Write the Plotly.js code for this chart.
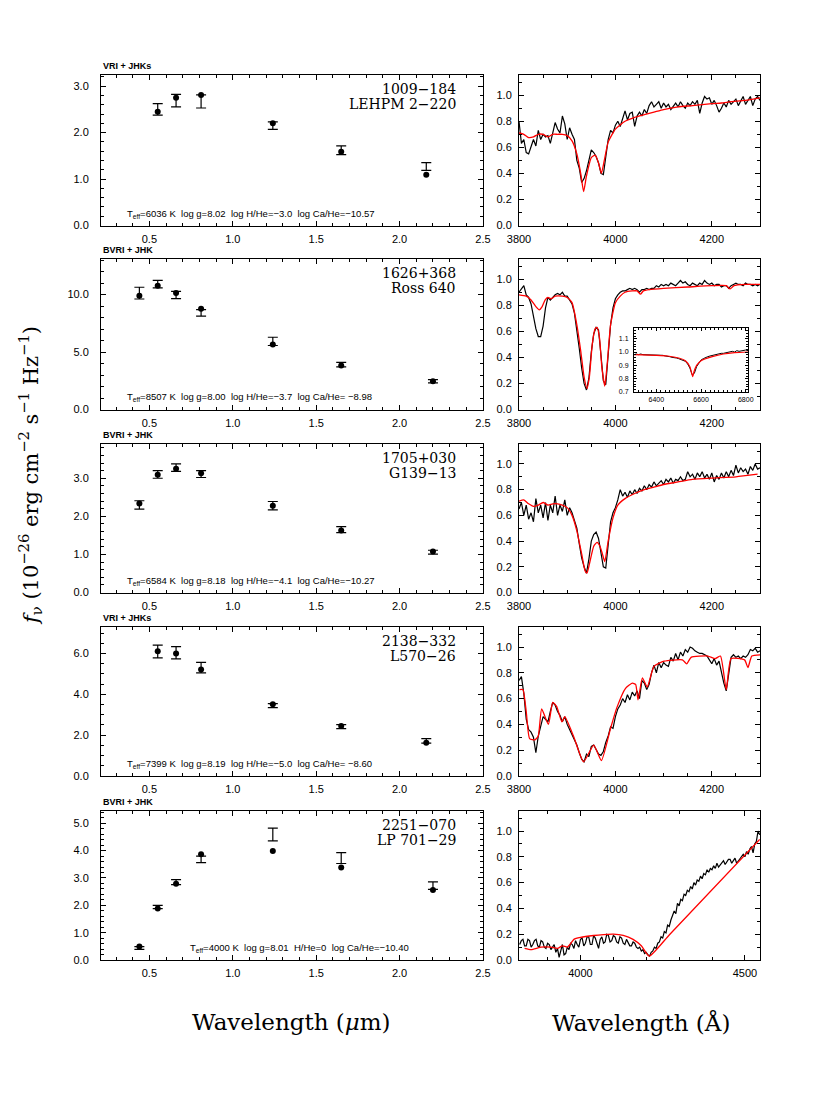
<!DOCTYPE html>
<html>
<head>
<meta charset="utf-8">
<script src="https://cdn.plot.ly/plotly-3.0.1.min.js"></script>
<style>
  body { margin: 0; background: #fff; }
  #chart { width: 830px; height: 1106px; }
</style>
</head>
<body>
<div id="chart"></div>
<script>
// photometric band wavelengths (micron)
var bandsVRIJHKs = [0.55, 0.66, 0.81, 1.24, 1.65, 2.16];
var bandsBVRIJHK = [0.44, 0.55, 0.66, 0.81, 1.24, 1.65, 2.20];

// observed fluxes (error bars) and model fluxes (dots), 10^-26 erg/cm2/s/Hz
var obs1 = [2.50, 2.69, 2.67, 2.15, 1.62, 1.27];
var err1 = [0.125, 0.135, 0.14, 0.08, 0.095, 0.085];
var mod1 = [2.45, 2.75, 2.81, 2.20, 1.59, 1.09];

var obs2 = [10.13, 10.91, 9.97, 8.41, 5.93, 3.91, 2.46];
var err2 = [0.51, 0.33, 0.32, 0.29, 0.36, 0.20, 0.145];
var mod2 = [9.91, 10.78, 10.14, 8.78, 5.65, 3.83, 2.46];

var obs3 = [2.30, 3.10, 3.28, 3.11, 2.28, 1.65, 1.06];
var err3 = [0.11, 0.10, 0.10, 0.09, 0.11, 0.08, 0.05];
var mod3 = [2.34, 3.09, 3.25, 3.13, 2.28, 1.63, 1.08];

var obs4 = [6.10, 6.04, 5.31, 3.45, 2.42, 1.72];
var err4 = [0.31, 0.30, 0.26, 0.10, 0.10, 0.11];
var mod4 = [6.11, 6.00, 5.22, 3.51, 2.45, 1.63];

var obs5 = [0.44, 1.94, 2.85, 3.68, 4.59, 3.73, 2.72];
var err5 = [0.05, 0.06, 0.09, 0.12, 0.23, 0.20, 0.135];
var mod5 = [0.49, 1.88, 2.79, 3.87, 3.99, 3.38, 2.56];

// observed spectra, 3800-4300 A every 5 A (rows 1-4)
var spec1 = [
  0.80, 0.63, 0.66, 0.56, 0.55, 0.60, 0.66, 0.61, 0.73, 0.66,
  0.70, 0.68, 0.69, 0.63, 0.72, 0.79, 0.74, 0.71, 0.84, 0.78,
  0.66, 0.75, 0.70, 0.66, 0.50, 0.44, 0.33, 0.36, 0.42, 0.50,
  0.58, 0.56, 0.53, 0.48, 0.40, 0.39, 0.55, 0.66, 0.73, 0.71,
  0.77, 0.80, 0.76, 0.82, 0.88, 0.81, 0.86, 0.87, 0.76, 0.84,
  0.87, 0.84, 0.89, 0.86, 0.92, 0.95, 0.91, 0.93, 0.95, 0.90,
  0.94, 0.91, 0.93, 0.89, 0.92, 0.94, 0.91, 0.95, 0.92, 0.90,
  0.94, 0.92, 0.95, 0.93, 0.96, 0.86, 0.94, 0.99, 0.97, 0.98,
  0.93, 0.96, 0.92, 0.87, 0.90, 0.94, 0.91, 0.96, 0.93, 0.95,
  0.97, 0.92, 0.95, 0.99, 0.93, 0.96, 0.99, 0.92, 0.97, 0.99,
  0.96
];
var spec2 = [
  0.90, 0.93, 0.95, 0.88, 0.86, 0.81, 0.72, 0.62, 0.56, 0.56,
  0.64, 0.78, 0.86, 0.84, 0.86, 0.88, 0.89, 0.88, 0.90, 0.87,
  0.87, 0.84, 0.81, 0.74, 0.62, 0.47, 0.32, 0.20, 0.15, 0.24,
  0.44, 0.58, 0.63, 0.61, 0.42, 0.22, 0.19, 0.40, 0.65, 0.78,
  0.85, 0.88, 0.90, 0.91, 0.91, 0.92, 0.93, 0.92, 0.93, 0.92,
  0.90, 0.92, 0.92, 0.93, 0.92, 0.93, 0.93, 0.95, 0.94, 0.96,
  0.95, 0.96, 0.95, 0.97, 0.96, 0.95, 0.97, 0.99, 0.97, 0.98,
  0.96, 0.95, 0.97, 0.96, 0.95, 0.97, 0.96, 0.99, 0.97, 0.96,
  0.97, 0.95, 0.96, 0.96, 0.94, 0.95, 0.95, 0.93, 0.95, 0.96,
  0.97, 0.96, 0.96, 0.95, 0.97, 0.96, 0.96, 0.95, 0.96, 0.95,
  0.96
];
var spec3 = [
  0.65, 0.70, 0.60, 0.68, 0.57, 0.62, 0.55, 0.73, 0.62, 0.68,
  0.58, 0.70, 0.56, 0.68, 0.62, 0.75, 0.60, 0.68, 0.63, 0.72,
  0.60, 0.66, 0.62, 0.56, 0.50, 0.38, 0.27, 0.20, 0.15, 0.26,
  0.40, 0.45, 0.47, 0.42, 0.30, 0.20, 0.19, 0.40, 0.55, 0.62,
  0.66, 0.72, 0.80, 0.75, 0.78, 0.74, 0.79, 0.76, 0.80, 0.77,
  0.81, 0.79, 0.83, 0.80, 0.84, 0.82, 0.86, 0.83, 0.85, 0.87,
  0.84, 0.88, 0.86, 0.89, 0.85, 0.88, 0.87, 0.90, 0.87, 0.88,
  0.94, 0.90, 0.92, 0.88, 0.93, 0.90, 0.94, 0.89, 0.92, 0.88,
  0.93, 0.86, 0.91, 0.88, 0.93, 0.89, 0.94, 0.90, 0.95, 0.91,
  0.99, 0.93, 0.97, 0.94, 0.96, 0.92, 0.98, 0.95, 1.00, 0.96,
  0.97
];
var spec4 = [
  0.74, 0.77, 0.64, 0.44, 0.36, 0.34, 0.30, 0.18, 0.31, 0.38,
  0.46, 0.44, 0.42, 0.50, 0.57, 0.55, 0.50, 0.47, 0.42, 0.46,
  0.40, 0.36, 0.32, 0.27, 0.24, 0.18, 0.13, 0.11, 0.17, 0.15,
  0.23, 0.24, 0.21, 0.17, 0.16, 0.19, 0.26, 0.31, 0.38, 0.37,
  0.46, 0.52, 0.55, 0.60, 0.57, 0.63, 0.59, 0.65, 0.62, 0.66,
  0.60, 0.74, 0.72, 0.67, 0.71, 0.80, 0.86, 0.80, 0.88, 0.84,
  0.88, 0.86, 0.85, 0.92, 0.89, 0.95, 0.90, 0.96, 0.93, 0.98,
  0.96, 1.00, 0.99, 0.97, 0.96, 0.95, 0.95, 0.94, 0.93, 0.90,
  0.87, 0.91, 0.86, 0.89, 0.80, 0.72, 0.66, 0.80, 0.92, 0.94,
  0.92, 0.93, 0.91, 0.93, 0.92, 0.94, 0.98, 0.97, 0.99, 0.96,
  0.97
];
// row 5: 3815-4545 A every 5 A
var spec5 = [
  0.12, 0.15, 0.16, 0.11, 0.11, 0.16, 0.15, 0.10, 0.12, 0.15,
  0.16, 0.11, 0.10, 0.15, 0.14, 0.10, 0.09, 0.13, 0.12, 0.08,
  0.10, 0.12, 0.06, 0.09, 0.02, 0.08, 0.12, 0.04, 0.05, 0.10,
  0.08, 0.13, 0.12, 0.09, 0.15, 0.12, 0.10, 0.16, 0.17, 0.11,
  0.13, 0.18, 0.18, 0.12, 0.12, 0.19, 0.17, 0.13, 0.09, 0.16,
  0.18, 0.13, 0.14, 0.20, 0.19, 0.14, 0.15, 0.19, 0.18, 0.14,
  0.13, 0.18, 0.17, 0.13, 0.12, 0.16, 0.14, 0.11, 0.11, 0.14,
  0.13, 0.10, 0.09, 0.10, 0.07, 0.08, 0.05, 0.06, 0.04, 0.03,
  0.06, 0.07, 0.10, 0.09, 0.13, 0.14, 0.18, 0.17, 0.22, 0.21,
  0.27, 0.26, 0.31, 0.35, 0.38, 0.36, 0.44, 0.42, 0.47, 0.46,
  0.51, 0.50, 0.54, 0.53, 0.57, 0.55, 0.60, 0.58, 0.62, 0.61,
  0.65, 0.63, 0.67, 0.66, 0.70, 0.68, 0.71, 0.70, 0.73, 0.71,
  0.75, 0.72, 0.74, 0.76, 0.77, 0.74, 0.76, 0.78, 0.78, 0.75,
  0.77, 0.79, 0.75, 0.77, 0.79, 0.81, 0.82, 0.80, 0.84, 0.82,
  0.86, 0.88, 0.83, 0.90, 0.92, 1.00, 0.97
];

// model spectra (red)
var modWave1 = [3800, 3810, 3820, 3830, 3840, 3850, 3860, 3870, 3880, 3890, 3900, 3910, 3920, 3928, 3934, 3940, 3950, 3958, 3965, 3971, 3977, 3985, 4000, 4020, 4040, 4060, 4080, 4100, 4130, 4160, 4200, 4220, 4240, 4270, 4300];
var modFlux1 = [0.71, 0.70, 0.675, 0.68, 0.70, 0.70, 0.68, 0.70, 0.70, 0.70, 0.69, 0.65, 0.55, 0.40, 0.26, 0.38, 0.52, 0.54, 0.48, 0.40, 0.50, 0.64, 0.74, 0.80, 0.83, 0.85, 0.87, 0.89, 0.91, 0.92, 0.935, 0.94, 0.95, 0.96, 0.98];

var modWave2 = [3800, 3815, 3825, 3835, 3842, 3848, 3854, 3860, 3867, 3875, 3890, 3900, 3910, 3920, 3928, 3935, 3941, 3946, 3952, 3958, 3962, 3967, 3972, 3978, 3983, 3990, 4000, 4010, 4020, 4035, 4045, 4052, 4058, 4070, 4100, 4150, 4200, 4230, 4238, 4246, 4270, 4300];
var modFlux2 = [0.88, 0.87, 0.84, 0.79, 0.765, 0.79, 0.84, 0.86, 0.85, 0.87, 0.87, 0.86, 0.82, 0.65, 0.45, 0.25, 0.16, 0.25, 0.50, 0.62, 0.63, 0.55, 0.32, 0.18, 0.35, 0.65, 0.82, 0.87, 0.90, 0.91, 0.91, 0.885, 0.91, 0.92, 0.93, 0.94, 0.95, 0.95, 0.925, 0.95, 0.96, 0.96];

var modWave3 = [3800, 3810, 3820, 3830, 3840, 3850, 3860, 3870, 3880, 3890, 3900, 3910, 3920, 3930, 3937, 3941, 3946, 3955, 3962, 3968, 3973, 3978, 3985, 3995, 4005, 4020, 4040, 4060, 4080, 4100, 4130, 4160, 4200, 4250, 4295];
var modFlux3 = [0.71, 0.72, 0.69, 0.67, 0.68, 0.70, 0.68, 0.69, 0.69, 0.68, 0.66, 0.60, 0.48, 0.30, 0.17, 0.15, 0.22, 0.36, 0.39, 0.36, 0.30, 0.24, 0.40, 0.58, 0.68, 0.73, 0.77, 0.80, 0.82, 0.84, 0.86, 0.88, 0.89, 0.90, 0.92];

var modWave4 = [3801, 3808, 3815, 3822, 3833, 3840, 3847, 3861, 3870, 3878, 3889, 3895, 3913, 3934, 3955, 3971, 3990, 4003, 4021, 4035, 4042, 4047, 4056, 4066, 4080, 4101, 4139, 4148, 4157, 4192, 4207, 4218, 4230, 4240, 4268, 4275, 4283, 4302];
var modFlux4 = [0.67, 0.67, 0.50, 0.29, 0.28, 0.31, 0.52, 0.40, 0.57, 0.54, 0.42, 0.46, 0.31, 0.11, 0.24, 0.12, 0.37, 0.53, 0.68, 0.72, 0.71, 0.59, 0.76, 0.69, 0.85, 0.89, 0.90, 0.87, 0.92, 0.93, 0.91, 0.93, 0.67, 0.91, 0.90, 0.84, 0.93, 0.94];

var modWave5 = [3830, 3850, 3880, 3910, 3930, 3945, 3960, 3968, 3980, 4000, 4040, 4070, 4100, 4130, 4160, 4185, 4209, 4272, 4545];
var modFlux5 = [0.09, 0.08, 0.10, 0.10, 0.09, 0.11, 0.10, 0.12, 0.16, 0.175, 0.19, 0.197, 0.20, 0.19, 0.16, 0.11, 0.03, 0.20, 0.935];

// H-alpha inset of 1626+368, 6300-6810 A every 10 A
var insetSpec = [
  0.980, 0.985, 0.980, 0.985, 0.980, 0.980, 0.975, 0.980, 0.980, 0.975,
  0.980, 0.975, 0.980, 0.975, 0.970, 0.970, 0.965, 0.960, 0.960, 0.955,
  0.950, 0.945, 0.940, 0.930, 0.910, 0.880, 0.830, 0.840, 0.890, 0.920,
  0.940, 0.950, 0.960, 0.965, 0.970, 0.975, 0.980, 0.980, 0.985, 0.990,
  0.990, 0.995, 0.995, 1.000, 1.005, 1.000, 1.010, 1.005, 1.010, 1.010,
  1.015, 1.010
];
var insetModWave = [6300, 6400, 6450, 6500, 6530, 6550, 6558, 6563, 6568, 6580, 6600, 6650, 6700, 6750, 6810];
var insetModFlux = [0.98, 0.975, 0.97, 0.955, 0.935, 0.89, 0.84, 0.815, 0.85, 0.90, 0.935, 0.965, 0.985, 0.995, 1.0];

// labels
var bandLabels = ['VRI + JHKs', 'BVRI + JHK', 'BVRI + JHK', 'VRI + JHKs', 'BVRI + JHK'];
var starIds = ['1009\u2212184', '1626+368', '1705+030', '2138\u2212332', '2251\u2212070'];
var starNames = ['LEHPM 2\u2212220', 'Ross 640', 'G139\u221213', 'L570\u221226', 'LP 701\u221229'];
var fitParams = [
  'T<sub>eff</sub>=6036 K\u00a0\u00a0log g=8.02\u00a0\u00a0log H/He=\u22123.0\u00a0\u00a0log Ca/He=\u221210.57',
  'T<sub>eff</sub>=8507 K\u00a0\u00a0log g=8.00\u00a0\u00a0log H/He=\u22123.7\u00a0\u00a0log Ca/He=\u00a0\u22128.98',
  'T<sub>eff</sub>=6584 K\u00a0\u00a0log g=8.18\u00a0\u00a0log H/He=\u22124.1\u00a0\u00a0log Ca/He=\u221210.27',
  'T<sub>eff</sub>=7399 K\u00a0\u00a0log g=8.19\u00a0\u00a0log H/He=\u22125.0\u00a0\u00a0log Ca/He=\u00a0\u22128.60',
  'T<sub>eff</sub>=4000 K\u00a0\u00a0log g=8.01\u00a0\u00a0H/He=0\u00a0\u00a0log Ca/He=\u221210.40'
];

var sedBands = [bandsVRIJHKs, bandsBVRIJHK, bandsBVRIJHK, bandsVRIJHKs, bandsBVRIJHK];
var sedObs = [obs1, obs2, obs3, obs4, obs5];
var sedErr = [err1, err2, err3, err4, err5];
var sedMod = [mod1, mod2, mod3, mod4, mod5];
var specs = [spec1, spec2, spec3, spec4, spec5];
var modWaves = [modWave1, modWave2, modWave3, modWave4, modWave5];
var modFluxes = [modFlux1, modFlux2, modFlux3, modFlux4, modFlux5];

var sedYMax = [3.24, 13.1, 3.9, 7.3, 5.45];
var sedYTicks = [[0, 1, 2, 3], [0, 5, 10], [0, 1, 2, 3], [0, 2, 4, 6], [0, 1, 2, 3, 4, 5]];
var sedYMinor = [0.2, 1, 0.2, 0.5, 0.2];
var sedXTicks = [0.5, 1.0, 1.5, 2.0, 2.5];
var specYTicks = [0, 0.2, 0.4, 0.6, 0.8, 1.0];

// page geometry (pixels)
var W = 830, H = 1106;
function fx(p) { return p / W; }
function fy(p) { return 1 - p / H; }
var rowTop = [75, 259, 444, 627, 811];
var rowBot = [225.5, 409.5, 592.5, 776, 960];
var leftX = [101, 483], rightX = [519, 760];

function axisStyle(extra) {
    var base = {
        showline: true, linecolor: 'black', linewidth: 1,
        mirror: 'allticks', ticks: 'inside', ticklen: 5, tickwidth: 1, tickcolor: 'black',
        showgrid: false, zeroline: false, fixedrange: true,
        tickfont: {family: 'Liberation Sans, Arial, sans-serif', size: 11, color: 'black'},
        tickmode: 'array'
    };
    return Object.assign(base, extra);
}
function minorTicks(d) {
    return {ticks: 'inside', ticklen: 3, tickwidth: 1, tickcolor: 'black', dtick: d, showgrid: false};
}

var data = [];
var layout = {
    width: W, height: H,
    margin: {l: 0, r: 0, t: 0, b: 0},
    paper_bgcolor: 'white', plot_bgcolor: 'white',
    showlegend: false,
    annotations: []
};

for (var i = 0; i < 5; i++) {
    var nL = 2 * i + 1, nR = 2 * i + 2;
    var xL = nL === 1 ? 'x' : 'x' + nL, yL = nL === 1 ? 'y' : 'y' + nL;
    var xR = 'x' + nR, yR = 'y' + nR;
    var yDom = [fy(rowBot[i]), fy(rowTop[i])];

    // observed photometry with error bars
    data.push({
        x: sedBands[i], y: sedObs[i], xaxis: xL, yaxis: yL,
        mode: 'markers', marker: {size: 0, color: 'rgba(0,0,0,0)'},
        error_y: {type: 'data', array: sedErr[i], visible: true, color: 'black', thickness: 1.2, width: 5},
        hoverinfo: 'skip'
    });
    // model photometry
    data.push({
        x: sedBands[i], y: sedMod[i], xaxis: xL, yaxis: yL,
        mode: 'markers', marker: {size: 6, color: 'black'}
    });
    // observed spectrum
    var black = {
        y: specs[i], xaxis: xR, yaxis: yR, mode: 'lines',
        line: {color: 'black', width: 1.2}
    };
    black.x0 = i < 4 ? 3800 : 3815;
    black.dx = 5;
    data.push(black);
    // model spectrum
    data.push({
        x: modWaves[i], y: modFluxes[i], xaxis: xR, yaxis: yR, mode: 'lines',
        line: {color: '#ff0000', width: 1.3, shape: 'spline', smoothing: 0.5}
    });

    layout['xaxis' + (nL === 1 ? '' : nL)] = axisStyle({
        domain: [fx(leftX[0]), fx(leftX[1])], anchor: yL, range: [0.21, 2.5],
        tickvals: sedXTicks, tickformat: '.1f', minor: minorTicks(0.1), ticklabelstandoff: 3
    });
    layout['yaxis' + (nL === 1 ? '' : nL)] = axisStyle({
        domain: yDom, anchor: xL, range: [0, sedYMax[i]],
        tickvals: sedYTicks[i], tickformat: '.1f', minor: minorTicks(sedYMinor[i]), ticklabelstandoff: 9
    });
    layout['xaxis' + nR] = axisStyle(i < 4 ? {
        domain: [fx(rightX[0]), fx(rightX[1])], anchor: yR, range: [3800, 4300],
        tickvals: [3800, 4000, 4200], minor: minorTicks(50), ticklabelstandoff: 3
    } : {
        domain: [fx(rightX[0]), fx(rightX[1])], anchor: yR, range: [3813, 4546],
        tickvals: [4000, 4500], minor: minorTicks(100), ticklabelstandoff: 3
    });
    layout['yaxis' + nR] = axisStyle({
        domain: yDom, anchor: xR, range: [0, 1.155],
        tickvals: specYTicks, tickformat: '.1f', minor: minorTicks(0.1), ticklabelstandoff: 4
    });

    layout.annotations.push({
        xref: 'paper', yref: 'paper', x: fx(leftX[0]), y: fy(rowTop[i] - 2),
        xanchor: 'left', yanchor: 'bottom', showarrow: false, text: '<b>' + bandLabels[i] + '</b>',
        font: {family: 'Liberation Sans, Arial, sans-serif', size: 9, color: 'black'}
    });
    layout.annotations.push({
        xref: 'paper', yref: 'paper', x: fx(458), y: fy(rowTop[i] + 14),
        xanchor: 'right', yanchor: 'middle', showarrow: false, text: starIds[i],
        font: {family: 'DejaVu Serif, serif', size: 14, color: 'black'}
    });
    layout.annotations.push({
        xref: 'paper', yref: 'paper', x: fx(458), y: fy(rowTop[i] + 29),
        xanchor: 'right', yanchor: 'middle', showarrow: false, text: starNames[i],
        font: {family: 'DejaVu Serif, serif', size: 14, color: 'black'}
    });
    layout.annotations.push({
        xref: 'paper', yref: 'paper', x: fx(i < 4 ? 125 : 188), y: fy(rowBot[i] - 12),
        xanchor: 'left', yanchor: 'middle', showarrow: false, text: fitParams[i],
        font: {family: 'Liberation Sans, Arial, sans-serif', size: 9.5, color: 'black'}
    });
}

// H-alpha inset in the Ross 640 panel
data.push({
    y: insetSpec, x0: 6300, dx: 10, xaxis: 'x11', yaxis: 'y11', mode: 'lines',
    line: {color: 'black', width: 1}
});
data.push({
    x: insetModWave, y: insetModFlux, xaxis: 'x11', yaxis: 'y11', mode: 'lines',
    line: {color: '#ff0000', width: 1.2, shape: 'spline', smoothing: 0.6}
});
var insetFont = {family: 'Liberation Sans, Arial, sans-serif', size: 7, color: 'black'};
layout.xaxis11 = axisStyle({
    domain: [fx(634), fx(748)], anchor: 'y11', range: [6300, 6810],
    tickvals: [6400, 6600, 6800], minor: minorTicks(20), ticklen: 3, tickfont: insetFont, ticklabelstandoff: 1
});
layout.yaxis11 = axisStyle({
    domain: [fy(392), fy(328)], anchor: 'x11', range: [0.7, 1.18],
    tickvals: [0.7, 0.8, 0.9, 1.0, 1.1], tickformat: '.1f', minor: minorTicks(0.02), ticklen: 3,
    tickfont: insetFont, ticklabelstandoff: 3
});
layout.xaxis11.minor.ticklen = 2;
layout.yaxis11.minor.ticklen = 2;

// shared axis titles
var bigFont = {family: 'DejaVu Serif, serif', size: 21, color: 'black'};
var titleFont = {family: 'DejaVu Serif, serif', size: 23, color: 'black'};
layout.annotations.push({
    xref: 'paper', yref: 'paper', x: fx(30), y: fy(476), textangle: -90,
    xanchor: 'center', yanchor: 'middle', showarrow: false, font: bigFont,
    text: '<i>f</i><sub>\u03bd</sub> (10<sup>\u221226</sup> erg cm<sup>\u22122</sup> s<sup>\u22121</sup> Hz<sup>\u22121</sup>)'
});
layout.annotations.push({
    xref: 'paper', yref: 'paper', x: fx(291), y: fy(1022),
    xanchor: 'center', yanchor: 'middle', showarrow: false, font: titleFont,
    text: 'Wavelength (<i>\u03bc</i>m)'
});
layout.annotations.push({
    xref: 'paper', yref: 'paper', x: fx(641), y: fy(1022),
    xanchor: 'center', yanchor: 'middle', showarrow: false, font: titleFont,
    text: 'Wavelength (\u00c5)'
});

Plotly.newPlot('chart', data, layout, {displayModeBar: false, staticPlot: true});
</script>
</body>
</html>
